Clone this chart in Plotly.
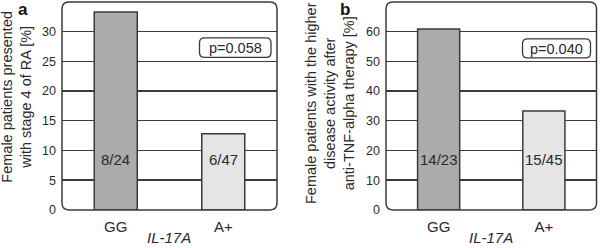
import plotly.graph_objects as go

W, H = 600, 248

categories = ["GG", "A+"]
values_a = [33.3, 12.8]
values_b = [60.9, 33.3]
counts_a = ["8/24", "6/47"]
counts_b = ["14/23", "15/45"]
p_a = "p=0.058"
p_b = "p=0.040"
ticks_a = [0, 5, 10, 15, 20, 25, 30]
ticks_b = [0, 10, 20, 30, 40, 50, 60]
ytitle_a = "Female patients presented<br>with stage 4 of RA [%]"
ytitle_b = "Female patients with the higher<br>disease activity after<br>anti-TNF-alpha therapy [%]"
xtitle = "<i>IL-17A</i>"
bar_colors = ["#ababab", "#e5e5e5"]

FONT = "Liberation Sans, Arial, sans-serif"
TXT = "#2a2a2a"
LINE = "#3a3a3a"

dom_a = [62 / W, 277 / W]
dom_b = [386 / W, 596.5 / W]
dom_y = [1 - 216 / H, 1 - 2 / H]

fig = go.Figure()
fig.add_trace(go.Bar(x=categories, y=values_a, xaxis="x", yaxis="y", width=0.4,
                     marker=dict(color=bar_colors, line=dict(color=LINE, width=1.5)),
                     hoverinfo="skip"))
fig.add_trace(go.Bar(x=categories, y=values_b, xaxis="x2", yaxis="y2", width=0.4,
                     marker=dict(color=bar_colors, line=dict(color=LINE, width=1.5)),
                     hoverinfo="skip"))

axis_common = dict(showline=False, zeroline=False, ticks="", fixedrange=True)
fig.update_layout(
    width=W, height=H, margin=dict(l=0, r=0, t=0, b=0),
    paper_bgcolor="white", plot_bgcolor="white", showlegend=False,
    font=dict(family=FONT, color=TXT),
    xaxis=dict(domain=dom_a, range=[-0.5, 1.5], anchor="y", showgrid=False,
               tickfont=dict(size=15, color=TXT), ticklabelstandoff=6, **axis_common),
    yaxis=dict(domain=dom_y, range=[0, 35], anchor="x", tickvals=ticks_a,
               showgrid=True, gridcolor=LINE, gridwidth=1.4,
               tickfont=dict(size=12.5, color=TXT), ticklabelstandoff=5, **axis_common),
    xaxis2=dict(domain=dom_b, range=[-0.5, 1.5], anchor="y2", showgrid=False,
                tickfont=dict(size=15, color=TXT), ticklabelstandoff=6, **axis_common),
    yaxis2=dict(domain=dom_y, range=[0, 70], anchor="x2", tickvals=ticks_b,
                showgrid=True, gridcolor=LINE, gridwidth=1.4,
                tickfont=dict(size=12.5, color=TXT), ticklabelstandoff=5, **axis_common),
)


def px(x):
    return x / W


def py(y):
    return 1 - y / H


def rrect(x0, y0, x1, y1, r):
    p = [
        f"M {px(x0 + r)} {py(y0)}",
        f"L {px(x1 - r)} {py(y0)}",
        f"Q {px(x1)} {py(y0)} {px(x1)} {py(y0 + r)}",
        f"L {px(x1)} {py(y1 - r)}",
        f"Q {px(x1)} {py(y1)} {px(x1 - r)} {py(y1)}",
        f"L {px(x0 + r)} {py(y1)}",
        f"Q {px(x0)} {py(y1)} {px(x0)} {py(y1 - r)}",
        f"L {px(x0)} {py(y0 + r)}",
        f"Q {px(x0)} {py(y0)} {px(x0 + r)} {py(y0)}",
        "Z",
    ]
    return " ".join(p)


shapes = []
for dom in (dom_a, dom_b):
    x0, x1 = dom[0] * W, dom[1] * W
    y0, y1 = (1 - dom_y[1]) * H, (1 - dom_y[0]) * H
    shapes.append(dict(type="path", xref="paper", yref="paper", path=rrect(x0, y0, x1, y1, 7),
                       line=dict(color=LINE, width=1.5), fillcolor="rgba(0,0,0,0)", layer="above"))
shapes.append(dict(type="path", xref="paper", yref="paper", path=rrect(199.5, 39, 271, 59, 5),
                   line=dict(color=LINE, width=1.3), fillcolor="white", layer="above"))
shapes.append(dict(type="path", xref="paper", yref="paper", path=rrect(522.5, 40, 590.5, 59.5, 5),
                   line=dict(color=LINE, width=1.3), fillcolor="white", layer="above"))
fig.update_layout(shapes=shapes)

ann = []
ann.append(dict(x=px(235.3), y=py(49.5), xref="paper", yref="paper", text=p_a, showarrow=False,
                font=dict(size=14.5, color=TXT), xanchor="center", yanchor="middle"))
ann.append(dict(x=px(556.5), y=py(50), xref="paper", yref="paper", text=p_b, showarrow=False,
                font=dict(size=14.5, color=TXT), xanchor="center", yanchor="middle"))
for xr, yr, labels in (("x", "y domain", counts_a), ("x2", "y2 domain", counts_b)):
    for c, t in zip(categories, labels):
        ann.append(dict(x=c, y=0.24, xref=xr, yref=yr, text=t, showarrow=False,
                        font=dict(size=15, color=TXT), xanchor="center", yanchor="middle"))
ann.append(dict(x=sum(dom_a) / 2, y=py(244), xref="paper", yref="paper", text=xtitle, showarrow=False,
                font=dict(size=15, color=TXT), xanchor="center", yanchor="middle"))
ann.append(dict(x=sum(dom_b) / 2, y=py(244), xref="paper", yref="paper", text=xtitle, showarrow=False,
                font=dict(size=15, color=TXT), xanchor="center", yanchor="middle"))
ann.append(dict(x=px(16.5), y=py(100), xref="paper", yref="paper", text=ytitle_a, showarrow=False,
                textangle=-90, font=dict(size=14.5, color=TXT), xanchor="center", yanchor="middle"))
ann.append(dict(x=px(330), y=py(106), xref="paper", yref="paper", text=ytitle_b, showarrow=False,
                textangle=-90, font=dict(size=14.5, color=TXT), xanchor="center", yanchor="middle"))
ann.append(dict(x=px(22.5), y=py(10), xref="paper", yref="paper", text="<b>a</b>", showarrow=False,
                font=dict(size=17, color="#111"), xanchor="center", yanchor="middle"))
ann.append(dict(x=px(345), y=py(9.5), xref="paper", yref="paper", text="<b>b</b>", showarrow=False,
                font=dict(size=17, color="#111"), xanchor="center", yanchor="middle"))
fig.update_layout(annotations=ann)

fig.write_html("out.html", config={"displayModeBar": False, "staticPlot": True},
               post_script="document.body.style.margin='0';document.body.style.overflow='hidden';")
